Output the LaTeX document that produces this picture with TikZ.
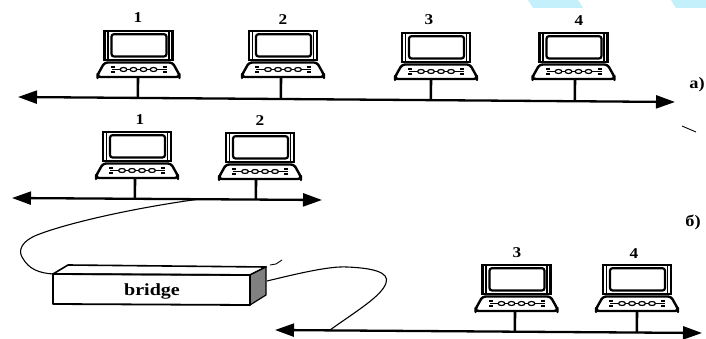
\documentclass[tikz,border=0pt]{standalone}
\usepackage{fontspec}
\setmainfont{Liberation Serif}
\usetikzlibrary{arrows.meta,calc}
\definecolor{scanblue}{HTML}{C4F0FB}
\tikzset{
  bus/.style={line width=2.3pt,{Triangle[length=19pt,width=13pt]}-{Triangle[length=19pt,width=13pt]}},
  stem/.style={line width=2.6pt},
  cable/.style={line width=1.1pt},
  numlabel/.style={font=\bfseries\fontsize{15}{15}\selectfont,xscale=1.15,inner sep=0pt},
  caselabel/.style={font=\bfseries\fontsize{16}{16}\selectfont,xscale=1.15,inner sep=0pt},
  frameout/.style={draw=black,line width=2.3pt,fill=white},
  framein/.style={draw=black,line width=2.2pt,fill=white,rounded corners=2.5pt},
  basepart/.style={draw=black,line width=2.4pt,fill=white,rounded corners=3pt,line join=round},
  keyline/.style={line width=1.7pt},
  keybead/.style={draw=black,line width=1.2pt,fill=white}
}
% #1 name, #2 centre x, #3 bottom y of the base, #4 stem x
\newcommand{\laptop}[4]{%
  \begin{scope}[shift={(#2,#3)}]
    \path[frameout] (-34,-17) rectangle (34,-46);
    \draw[line width=1.2pt] (-30.5,-17) -- (-30.5,-46) (30.5,-17) -- (30.5,-46);
    \path[framein] (-27,-20.5) rectangle (28,-42.8);
    \path[basepart] (-34,-14.5) -- (34,-14.5) -- (41,-2) -- (41,0) -- (-41,0) -- (-41,-2) -- cycle;
    \draw[keyline] (-27,-7.5) -- (28,-7.5);
    \foreach \k in {-15,-5,5,15} \path[keybead] (\k,-7.5) ellipse (3.4pt and 2pt);
    \draw[keyline] (-28,-9.8) -- (-24,-9.8) (-28,-5.2) -- (-24,-5.2) (24,-9.8) -- (28,-9.8) (24,-5.2) -- (28,-5.2);
  \end{scope}
  \coordinate (#1) at (#4,#3);
}
\begin{document}
\begin{tikzpicture}[x=1pt,y=-1pt]
\useasboundingbox (0,0) rectangle (706,339);
\fill[white] (0,0) rectangle (706,339);
\fill[scanblue] (528,0) -- (578,0) -- (583,8) -- (533,8) -- cycle;
\fill[scanblue] (671,0) -- (706,0) -- (706,8) -- (676,8) -- cycle;

% a)
\coordinate (aL) at (18,97);
\coordinate (aR) at (675,102);
\laptop{a1}{138.5}{77}{138}
\laptop{a2}{283}{77}{281}
\laptop{a3}{436}{79}{431}
\laptop{a4}{573.5}{79}{575}
\node[numlabel] (na1) at (138,18) {1};
\node[numlabel] (na2) at (283,20) {2};
\node[numlabel] (na3) at (429,20) {3};
\node[numlabel] (na4) at (579,21) {4};
\draw[bus] (aL) -- (aR);
\foreach \c in {a1,a2,a3,a4} \draw[stem] (\c) -- ($(aL)!(\c)!(aR)$);
\node[caselabel] (la) at (697,85) {a)};

% b) upper segment
\coordinate (bL) at (12,198);
\coordinate (bR) at (322,200);
\coordinate (bT) at (200,199);
\laptop{b1}{137}{178}{135}
\laptop{b2}{260}{179}{256}
\node[numlabel] (nb1) at (140,120) {1};
\node[numlabel] (nb2) at (260,121) {2};
\draw[bus] (bL) -- (bR);
\foreach \c in {b1,b2} \draw[stem] (\c) -- ($(bL)!(\c)!(bR)$);
\node[caselabel] (lb) at (693,222) {б)};

% b) lower segment
\coordinate (cL) at (275,330);
\coordinate (cR) at (702,333);
\coordinate (cT) at (330,330);
\laptop{c3}{516.5}{311}{515}
\laptop{c4}{637}{311}{637}
\node[numlabel] (nc3) at (517,253) {3};
\node[numlabel] (nc4) at (634,254) {4};
\draw[bus] (cL) -- (cR);
\foreach \c in {c3,c4} \draw[stem] (\c) -- ($(cL)!(\c)!(cR)$);

% bridge
\coordinate (brA) at (53,274);
\coordinate (brB) at (250,275);
\coordinate (brC) at (250,305);
\coordinate (brD) at (53,304);
\coordinate (brE) at (68,265);
\coordinate (brF) at (266,267);
\coordinate (brG) at (266,295);
\fill[white] (brA) -- (brB) -- (brC) -- (brD) -- cycle;
\draw[line width=1.6pt,line join=round,fill=white] (brA) -- (brE) -- (brF) -- (brB) -- cycle;
\draw[line width=1.2pt,fill=black!50] (brB) -- (brF) -- (brG) -- (brC) -- cycle;
\draw[line width=1.8pt,line join=round] (brA) -- (brB) -- (brC) -- (brD) -- cycle;
\node[font=\bfseries\fontsize{17}{17}\selectfont,xscale=1.18,inner sep=0pt] (bridge) at (152,291) {bridge};

% cables
\coordinate (brIn) at (53,274);
\coordinate (brOut) at (267,281);
\draw[cable] (bT) .. controls (140,207) and (70,222) .. (37,235)
  .. controls (22,241) and (18,250) .. (22,257)
  .. controls (29,270) and (40,273) .. (brIn);
\draw[cable] (brOut) .. controls (300,273) and (330,266) .. (347,267)
  .. controls (372,268) and (390,272) .. (386,283)
  .. controls (382,296) and (355,312) .. (cT);

% stray strokes of the scan
\draw[line width=0.9pt] (270,265) -- (276,264) -- (282,260);
\draw[line width=0.9pt] (682,126) -- (696,132);
\end{tikzpicture}
\end{document}
